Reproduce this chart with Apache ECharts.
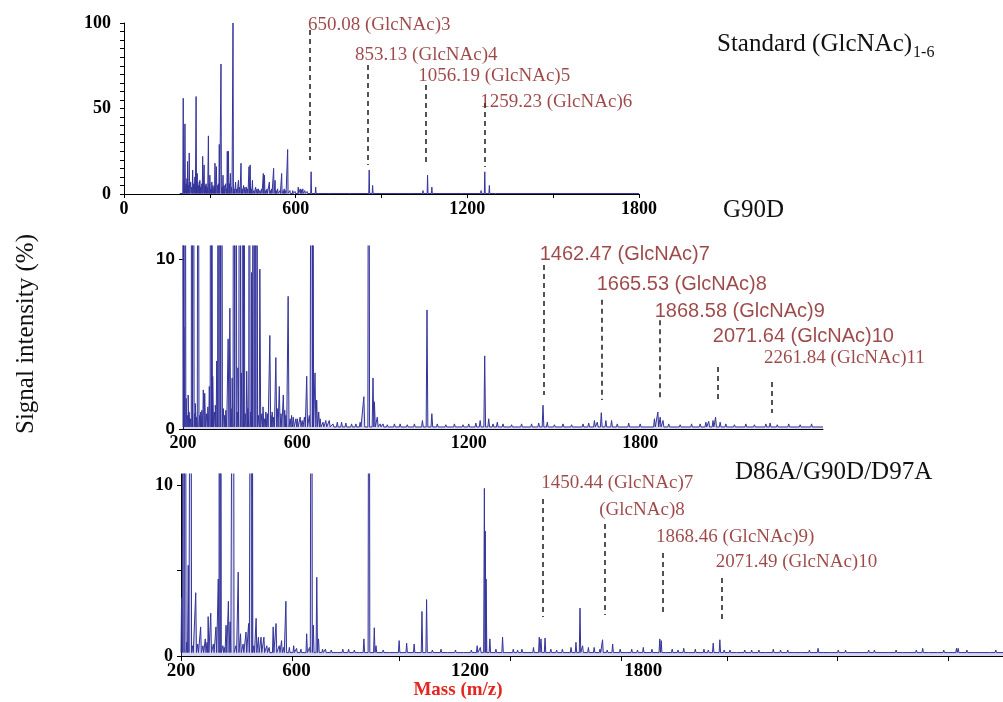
<!DOCTYPE html>
<html><head><meta charset="utf-8">
<script src="https://cdn.jsdelivr.net/npm/echarts@6/dist/echarts.min.js"></script>
<style>html,body{margin:0;padding:0;background:#fff}#c{width:1003px;height:702px}</style>
</head><body><div id="c"></div>
<script>
const SERIF = '"Liberation Serif","Times New Roman",serif';
const SANS = '"Liberation Sans",Arial,sans-serif';
const LINE = '#34349a';
const FILL = 'rgba(105,105,200,0.38)';
const RED = '#861c1c';

// ---------- tick labels ----------
const stdXLabels = [0, 600, 1200, 1800];
const stdYLabels = [0, 50, 100];
const midXLabels = [200, 600, 1200, 1800];
const midYLabels = [0, 10];
const midYTicks = [0, 10];
const botXLabels = [200, 600, 1200, 1800];
const botXTicks = [200, 584, 954, 1338, 1723, 2089, 2473, 2857];
const botYLabels = [0, 10];
const botYTicks = [0, 5, 10];

// ---------- Standard (GlcNAc)1-6 : [m/z, intensity %] ----------
const stdPeaks = [[207,56],[213,41],[222,19],[228,24],[240,14],[252,57],[256,12],[265,8],[275,22],[280,17],[287,6],[295,34],[300,11],[307,7],[318,18],[323,16],[333,29],[339,76],[346,11],[355,6],[361,25],[365,25],[372,12],[381,100],[390,7],[400,8],[409,18],[418,5],[428,4],[437,16],[441,17],[449,8],[460,4],[470,3],[487,12],[491,11],[500,3],[508,7],[516,3],[523,15],[528,8],[537,3],[551,12],[560,3],[572,26],[590,2],[609,4],[616,3],[625,3],[654,13],[670,4],[857,14],[869,5],[1045,2],[1061,11],[1076,4],[1248,2],[1261,13],[1277,5]];
const stdGrass = [[210,8],[217,6],[220,9],[225,5],[233,7],[237,4],[244,6],[248,10],[260,5],[263,7],[268,4],[272,6],[284,5],[291,4],[298,6],[304,3],[311,5],[315,4],[327,5],[330,6],[343,4],[350,5],[358,3],[368,6],[376,4],[385,3],[394,3],[404,4],[413,3],[423,4],[432,3],[445,3],[454,2],[465,3],[475,2],[481,3],[495,2],[512,2],[532,2],[545,2],[556,2],[565,2],[580,2],[598,1.5],[620,2.5],[632,2],[640,1.5],[680,1],[720,0.8],[790,0.8],[830,1],[900,0.5],[960,0.5],[1000,0.6],[1120,0.5],[1180,0.5],[1300,0.4]];
const stdAnnMz = [650.08, 853.13, 1056.19, 1259.23];
const stdAnnText = ['650.08 (GlcNAc)3', '853.13 (GlcNAc)4', '1056.19 (GlcNAc)5', '1259.23 (GlcNAc)6'];

// ---------- G90D : [m/z, intensity %] ----------
const g90dPeaks = [[199,40],[203,6.0],[207,40],[211,1.8],[218,2.0],[230,40],[236,40],[243,1.5],[253,40],[262,1.0],[271,2.3],[276,2.1],[292,2.5],[297,40],[300,40],[304,3.1],[318,4.0],[323,40],[329,40],[335,40],[341,1.2],[358,5.3],[364,7.1],[372,3.0],[378,40],[385,40],[392,3.6],[399,40],[404,3.3],[409,40],[413,40],[423,3.4],[432,40],[440,9.2],[446,40],[452,40],[458,40],[469,9.4],[480,1.3],[490,1.0],[504,5.5],[512,1.0],[525,4.2],[537,2.5],[551,2.0],[560,0.8],[568,7.8],[580,0.8],[595,0.6],[610,0.7],[633,3.1],[642,0.8],[650,40],[654,40],[662,3.3],[668,1.7],[675,1.0],[700,0.5],[740,0.4],[790,0.3],[833,1.9],[850,40],[865,3.0],[870,1.6],[880,0.7],[900,0.3],[960,0.3],[1038,0.5],[1054,7.0],[1071,0.9],[1200,0.3],[1240,0.5],[1256,4.3],[1270,0.6],[1300,0.4],[1460,1.4],[1475,0.4],[1640,0.5],[1664,0.96],[1680,0.5],[1700,0.5],[1850,0.6],[1862,1.0],[1870,0.7],[1880,0.5],[2030,0.4],[2055,0.5],[2064,0.7],[2080,0.4],[2255,0.35]];
const g90dGrass = [[215,0.8],[221,1.0],[226,0.6],[240,0.9],[247,0.7],[258,0.8],[266,1.1],[282,0.9],[287,1.3],[310,1.0],[313,1.4],[345,0.8],[350,1.1],[368,1.2],[390,1.0],[418,0.9],[427,1.2],[437,1.0],[464,0.8],[476,0.9],[485,0.6],[495,0.9],[508,0.8],[517,0.7],[530,1.2],[543,0.9],[556,1.1],[575,0.6],[586,0.7],[600,0.6],[617,0.5],[625,0.7],[680,0.6],[690,0.4],[712,0.5],[725,0.3],[755,0.4],[770,0.35],[805,0.3],[820,0.4],[890,0.3],[915,0.25],[940,0.3],[985,0.25],[1010,0.3],[1090,0.3],[1120,0.25],[1150,0.3],[1180,0.25],[1225,0.35],[1285,0.3],[1320,0.3],[1350,0.25],[1385,0.3],[1420,0.3],[1445,0.35],[1500,0.25],[1530,0.3],[1560,0.25],[1600,0.3],[1620,0.35],[1650,0.4],[1720,0.3],[1760,0.35],[1800,0.3],[1900,0.3],[1940,0.25],[1980,0.3],[2010,0.3],[2040,0.45],[2100,0.3],[2130,0.25],[2170,0.3],[2200,0.25],[2240,0.3],[2280,0.25],[2320,0.3],[2360,0.25],[2400,0.3]];
const g90dAnnMz = [1462.47, 1665.53, 1868.58, 2071.64, 2261.84];
const g90dAnnText = ['1462.47 (GlcNAc)7', '1665.53 (GlcNAc)8', '1868.58 (GlcNAc)9', '2071.64 (GlcNAc)10', '2261.84 (GlcNAc)11'];

// ---------- D86A/G90D/D97A : [m/z, intensity %] ----------
const triPeaks = [[202,3.4],[208,40],[215,40],[225,5.3],[234,40],[251,3.7],[268,1.7],[284,1.0],[294,2.3],[303,2.5],[321,1.7],[329,4.5],[333,40],[337,40],[356,1.8],[364,3.2],[370,2.0],[381,40],[398,4.9],[406,1.3],[425,1.4],[434,1.9],[443,40],[446,40],[460,2.2],[468,1.1],[477,1.1],[487,1.1],[519,1.7],[529,1.9],[548,0.9],[563,3.2],[590,0.6],[635,1.3],[652,40],[658,1.8],[670,4.6],[676,1.0],[700,0.4],[760,0.4],[833,1.0],[851,40],[869,1.65],[875,0.6],[955,0.9],[981,0.75],[1007,0.7],[1034,2.6],[1050,3.3],[1100,0.4],[1150,0.35],[1225,0.6],[1236,0.5],[1250,9.8],[1253,7.3],[1256,4.5],[1269,1.0],[1290,0.4],[1313,1.1],[1350,0.4],[1380,0.4],[1420,0.5],[1440,1.1],[1446,1.0],[1460,1.05],[1480,0.4],[1520,0.4],[1550,0.5],[1567,0.8],[1581,2.8],[1590,0.6],[1610,0.5],[1630,0.5],[1659,0.95],[1694,0.7],[1720,0.4],[1760,0.4],[1800,0.5],[1830,0.4],[1857,1.0],[1862,0.9],[1900,0.4],[1940,0.45],[1980,0.4],[2010,0.4],[2042,0.75],[2065,0.95],[2100,0.35],[2151,0.35],[2200,0.35],[2250,0.4],[2300,0.35],[2350,0.3],[2405,0.45],[2450,0.3],[2500,0.35],[2560,0.3],[2600,0.35],[2650,0.3],[2700,0.3],[2767,0.45],[2820,0.3],[2884,0.45],[2890,0.45],[2950,0.3],[3000,0.3]];
const triGrass = [[220,0.8],[240,0.6],[258,0.7],[276,0.6],[290,0.8],[312,0.7],[345,0.6],[350,0.5],[390,0.6],[415,0.7],[452,0.6],[497,0.6],[505,0.5],[540,0.6],[555,0.5],[575,0.5],[600,0.45],[615,0.4],[645,0.5],[690,0.4],[720,0.35],[745,0.3],[780,0.4],[800,0.35],[820,0.3],[850,0.3],[900,0.35],[925,0.3],[1070,0.35],[1125,0.3],[1180,0.3],[1205,0.35],[1330,0.3],[1365,0.35],[1400,0.3],[1500,0.35],[1535,0.3],[1650,0.4],[1675,0.35],[1740,0.3],[1780,0.35],[1880,0.3],[1920,0.35],[1960,0.3],[2025,0.35],[2080,0.35],[2125,0.3],[2175,0.35],[2225,0.3],[2275,0.35],[2325,0.3],[2375,0.35],[2425,0.3],[2475,0.35],[2525,0.3],[2580,0.35],[2625,0.3],[2675,0.35],[2725,0.3],[2745,0.35],[2790,0.3],[2840,0.35],[2860,0.3],[2920,0.35],[2975,0.3],[3020,0.35]];
const triAnnMz = [1450.44, 1665, 1868.46, 2071.49];
const triAnnText = ['1450.44 (GlcNAc)7', '(GlcNAc)8', '1868.46 (GlcNAc)9)', '2071.49 (GlcNAc)10'];

// ---------- annotation layout (label baseline, dashed-line ends, text x-offset in px) ----------
const stdAnnLayout = {labelY:[93,76,63.7,48.5], top:[95.9,75.4,63.7,53.2], bottom:[19.9,17,17,15.8], dx:[-2,-13,-8,-4], font:[SERIF,SERIF,SERIF,SERIF], size:19};
const g90dAnnLayout = {labelY:[9.65,7.88,6.35,4.88,3.59], top:[9.65,7.6,6.4,3.65,2.76], bottom:[2.0,1.7,1.8,1.7,0.94], dx:[-4,-5,-5,-5,-8], font:[SANS,SANS,SANS,SANS,SERIF], size:[20,20,20,20,19]};
const triAnnLayout = {labelY:[9.53,7.97,6.40,4.94], top:[9.18,7.72,6.02,4.56], bottom:[2.28,2.4,2.4,1.99], dx:[-1,-5,-7,-6], font:[SERIF,SERIF,SERIF,SERIF], size:19};

function spectrum(peaks, grass, w, base, start, end) {
  const all = peaks.concat(grass).sort((a, b) => a[0] - b[0]);
  const pts = [[start, base]];
  all.forEach(([m, h]) => { pts.push([m - w, base], [m, h], [m + w, base]); });
  pts.push([end, base]);
  return pts;
}

function specSeries(idx, data) {
  return {
    type: 'line', xAxisIndex: idx, yAxisIndex: idx, data: data,
    symbol: 'none', showSymbol: false, clip: true, animation: false, silent: true,
    lineStyle: {color: LINE, width: 1}, areaStyle: {color: FILL}, z: 2
  };
}

function annSeries(idx, mz, texts, lay) {
  const sz = i => Array.isArray(lay.size) ? lay.size[i] : lay.size;
  return {
    type: 'scatter', xAxisIndex: idx, yAxisIndex: idx, symbolSize: 0, animation: false, silent: true, z: 5,
    data: mz.map((m, i) => ({
      value: [m, lay.labelY[i]],
      label: {offset: [lay.dx[i], 0], fontFamily: lay.font[i], fontSize: sz(i), lineHeight: sz(i)}
    })),
    label: {
      show: true, position: 'top', distance: 0, align: 'left', verticalAlign: 'bottom',
      color: RED,
      formatter: p => texts[p.dataIndex]
    },
    markLine: {
      silent: true, animation: false, symbol: ['none', 'none'],
      label: {show: false},
      lineStyle: {color: '#1a1a1a', type: [5, 4], width: 1.5},
      data: mz.map((m, i) => [{coord: [m, lay.top[i]]}, {coord: [m, lay.bottom[i]]}])
    }
  };
}

const axisLine = {show: true, onZero: false, lineStyle: {color: '#000', width: 1}};
const tickStyle = {color: '#000', width: 1};
const plain = v => String(v);
const boldSerif = {fontFamily: SERIF, fontWeight: 'bold', color: '#000', formatter: plain};

const chart = echarts.init(document.getElementById('c'), null, {renderer: 'canvas'});

// width of main title for subscript placement
const ctx = document.createElement('canvas').getContext('2d');
ctx.font = '25px ' + SERIF;
const mainW = ctx.measureText('Standard (GlcNAc)').width;

chart.setOption({
  animation: false,
  backgroundColor: '#fff',
  grid: [
    {left: 124, top: 23, width: 515, height: 171},
    {left: 183, top: 246, width: 640, height: 183},
    {left: 181, top: 474, width: 822, height: 182}
  ],
  xAxis: [
    {gridIndex: 0, type: 'value', min: 0, max: 1800, interval: 300, axisLine: axisLine,
     axisTick: {show: true, length: 4, lineStyle: tickStyle},
     axisLabel: Object.assign({customValues: stdXLabels, fontSize: 18, margin: 6}, boldSerif),
     splitLine: {show: false}},
    {gridIndex: 1, type: 'value', min: 200, max: 2440, axisLine: axisLine,
     axisTick: {show: false},
     axisLabel: Object.assign({customValues: midXLabels, fontSize: 18, margin: 5}, boldSerif),
     splitLine: {show: false}},
    {gridIndex: 2, type: 'value', min: 200, max: 3045, axisLine: axisLine,
     axisTick: {show: true, length: 5, customValues: botXTicks, lineStyle: tickStyle},
     axisLabel: Object.assign({customValues: botXLabels, fontSize: 19, margin: 6}, boldSerif),
     splitLine: {show: false}}
  ],
  yAxis: [
    {gridIndex: 0, type: 'value', min: 0, max: 100, interval: 5, axisLine: axisLine,
     axisTick: {show: true, length: 4, lineStyle: tickStyle},
     axisLabel: Object.assign({customValues: stdYLabels, fontSize: 18, margin: 13, padding: [8, 0, 0, 0]}, boldSerif),
     splitLine: {show: false}},
    {gridIndex: 1, type: 'value', min: 0, max: 10.76, axisLine: axisLine,
     axisTick: {show: true, length: 4, customValues: midYTicks, lineStyle: tickStyle},
     axisLabel: {customValues: midYLabels, fontSize: 17, margin: 8, padding: [0, 0, 12, 0], fontFamily: SANS, fontWeight: 'bold', color: '#000', formatter: plain},
     splitLine: {show: false}},
    {gridIndex: 2, type: 'value', min: 0, max: 10.64, axisLine: axisLine,
     axisTick: {show: true, length: 4, customValues: botYTicks, lineStyle: tickStyle},
     axisLabel: Object.assign({customValues: botYLabels, fontSize: 18, margin: 8, padding: [8, 0, 0, 0]}, boldSerif),
     splitLine: {show: false}}
  ],
  series: [
    specSeries(0, spectrum(stdPeaks, stdGrass, 1.5, 0.3, 195, 1800)),
    specSeries(1, spectrum(g90dPeaks, g90dGrass, 3, 0.12, 200, 2440)),
    specSeries(2, spectrum(triPeaks, triGrass, 2.5, 0.2, 200, 3045)),
    annSeries(0, stdAnnMz, stdAnnText, stdAnnLayout),
    annSeries(1, g90dAnnMz, g90dAnnText, g90dAnnLayout),
    annSeries(2, triAnnMz, triAnnText, triAnnLayout)
  ],
  graphic: [
    {type: 'text', x: 717, y: 44, silent: true,
     style: {text: 'Standard (GlcNAc)', font: '25px ' + SERIF, fill: '#111', align: 'left', verticalAlign: 'middle'}},
    {type: 'text', x: 717 + mainW + 1, y: 53, silent: true,
     style: {text: '1-6', font: '16px ' + SERIF, fill: '#111', align: 'left', verticalAlign: 'middle'}},
    {type: 'text', x: 723, y: 210, silent: true,
     style: {text: 'G90D', font: '25px ' + SERIF, fill: '#111', align: 'left', verticalAlign: 'middle'}},
    {type: 'text', x: 735, y: 472, silent: true,
     style: {text: 'D86A/G90D/D97A', font: '25px ' + SERIF, fill: '#111', align: 'left', verticalAlign: 'middle'}},
    {type: 'text', x: 26, y: 334, rotation: Math.PI / 2, silent: true,
     style: {text: 'Signal intensity (%)', font: '25px ' + SERIF, fill: '#111', align: 'center', verticalAlign: 'middle'}},
    {type: 'text', x: 458, y: 690, silent: true,
     style: {text: 'Mass (m/z)', font: 'bold 19px ' + SERIF, fill: '#e3261f', align: 'center', verticalAlign: 'middle'}}
  ]
});
</script>
</body></html>
